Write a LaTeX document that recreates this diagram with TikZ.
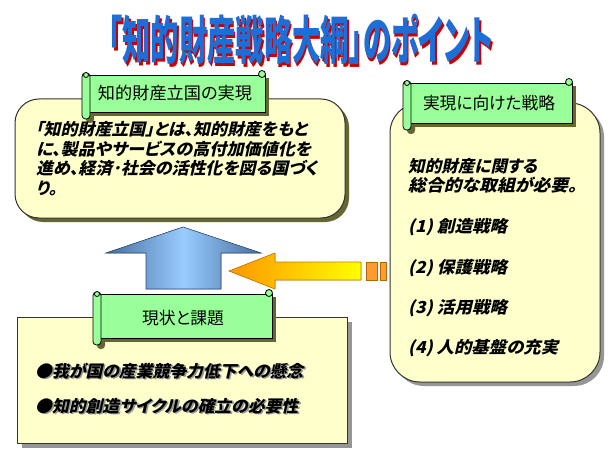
\documentclass[tikz,border=0pt]{standalone}
\usepackage{fontspec}
\newfontfamily\jp[RawFeature=+palt]{Noto Sans CJK JP}
\newfontfamily\jpbi[RawFeature=+palt,BoldFeatures={FakeSlant=0.22}]{Noto Sans CJK JP}
\newfontfamily\jptitle[RawFeature=+palt]{Noto Sans CJK JP}

\definecolor{titleblue}{RGB}{30,110,215}
\definecolor{titlered}{RGB}{200,0,0}
\definecolor{scrollgreen}{RGB}{153,255,153}
\definecolor{paper}{RGB}{255,255,204}
\definecolor{oliveshade}{RGB}{102,102,51}
\definecolor{edgegrey}{RGB}{51,51,51}
\definecolor{shadowgrey}{RGB}{150,150,150}
\definecolor{steel}{RGB}{70,110,160}
\definecolor{skyblue}{RGB}{153,204,255}
\definecolor{arrorange}{RGB}{255,150,0}
\definecolor{arryellow}{RGB}{255,255,0}
\definecolor{blockorange}{RGB}{255,153,51}

\tikzset{
  paperbox/.style={fill=paper, draw=edgegrey, line width=1pt},
  scrollbody/.style={fill=scrollgreen, draw=black, line width=0.8pt},
  bannertext/.style={font=\fontsize{17}{20}\jp, inner sep=0pt},
  bodytext/.style={font=\fontsize{16.5}{19}\jpbi\bfseries, anchor=base west, inner sep=0pt},
  uparrow/.style={left color=steel, right color=steel, middle color=skyblue, draw=steel!70!black, line width=0.6pt},
  leftarrow/.style={left color=arrorange, right color=arryellow, draw=arrorange!80!black, line width=0.6pt},
  dashblock/.style={fill=blockorange, draw=arrorange!70!black, line width=0.6pt},
}

% a line of text stretched or squeezed to a given width
\newcommand{\fitline}[2]{\resizebox{#1pt}{\height}{#2}}
% text with a soft grey drop shadow
\newcommand{\greyshadow}[1]{\makebox[0pt][l]{\hspace{1.6pt}\raisebox{-1.6pt}{\color{shadowgrey}#1}}#1}
% title text with a red drop shadow
\newcommand{\redshadow}[1]{\makebox[0pt][l]{\hspace{2.5pt}\raisebox{-2.5pt}{\color{titlered}#1}}{\color{titleblue}#1}}

% scroll-shaped banner: #1,#2 = top left, #3,#4 = bottom right of the body
\newcommand{\scrollbanner}[4]{%
  \fill[oliveshade] (#1+4,#2+8) rectangle (#3+4,#4+4);
  \fill[oliveshade, rounded corners=3.5pt] (#1+4,#2+8) rectangle (#1+12,#4+11);
  \filldraw[scrollbody] (#1+4,#2+5) rectangle (#3,#4);
  \filldraw[scrollbody] (#3-3,#2+4) circle (3.5pt);
  \filldraw[scrollbody, rounded corners=3.5pt] (#1,#2+3) rectangle (#1+8,#4+7);
  \filldraw[scrollbody] (#1+4,#2+5) circle (2.5pt);
}

\begin{document}
\begin{tikzpicture}[x=1pt, y=-1pt]
\useasboundingbox (0,0) rectangle (610,457);
\fill[white] (0,0) rectangle (610,457);

% title
\node[anchor=base, inner sep=0pt] (title) at (301,60)
  {\fitline{385}{\fontsize{52}{52}\jptitle\bfseries\redshadow{「知的財産戦略大綱」のポイント}}};

% upper left panel
\fill[oliveshade, rounded corners=24pt] (19,103) rectangle (349,222);
\filldraw[paperbox, rounded corners=24pt] (15,99) rectangle (345,218);

% right panel
\fill[shadowgrey, rounded corners=30pt] (394,107) rectangle (604,386);
\filldraw[paperbox, rounded corners=30pt] (390,103) rectangle (600,382);

% lower left panel
\fill[shadowgrey] (22,322) rectangle (352,448);
\filldraw[paperbox] (17,317) rectangle (347,443);

% banners
\scrollbanner{82}{70}{265}{112}
\node[bannertext] (bannerA) at (175,93) {\fitline{154}{知的財産立国の実現}};
\scrollbanner{403}{78}{572}{123}
\node[bannertext] (bannerB) at (489,103) {\fitline{132}{実現に向けた戦略}};
\scrollbanner{93}{289}{272}{338}
\node[bannertext] (bannerC) at (183,318) {\fitline{82}{現状と課題}};

% upper left text
\node[bodytext] (v1) at (35,135.5) {\fitline{272}{「知的財産立国」とは、知的財産をもと}};
\node[bodytext] (v2) at (36,155.5) {\fitline{275}{に、製品やサービスの高付加価値化を}};
\node[bodytext] (v3) at (36,174.5) {\fitline{281}{進め、経済･社会の活性化を図る国づく}};
\node[bodytext] (v4) at (36,194.5) {り。};

% right text
\node[bodytext] (s0a) at (408,172.5) {\fitline{129}{知的財産に関する}};
\node[bodytext] (s0b) at (408,191) {\fitline{169}{総合的な取組が必要。}};
\node[bodytext] (s1) at (408,232.5) {\fitline{99}{(1) 創造戦略}};
\node[bodytext] (s2) at (408,273.5) {\fitline{99}{(2) 保護戦略}};
\node[bodytext] (s3) at (408,313) {\fitline{99}{(3) 活用戦略}};
\node[bodytext] (s4) at (408,353) {\fitline{150}{(4) 人的基盤の充実}};

% lower left bullets
\node[bodytext] (b1) at (35,377) {\fitline{268}{\greyshadow{●我が国の産業競争力低下への懸念}}};
\node[bodytext] (b2) at (35,412) {\fitline{263}{\greyshadow{●知的創造サイクルの確立の必要性}}};

% block arrows
\filldraw[uparrow] (183,227) -- (261,253) -- (221,253) -- (221,289) -- (146,289) -- (146,253) -- (106,253) -- cycle;
\filldraw[leftarrow] (229,271) -- (275,253) -- (275,262) -- (361,262) -- (361,280) -- (275,280) -- (275,289) -- cycle;
\filldraw[dashblock] (366,262) rectangle (377,280);
\filldraw[dashblock] (380,262) rectangle (386,280);
\end{tikzpicture}
\end{document}
